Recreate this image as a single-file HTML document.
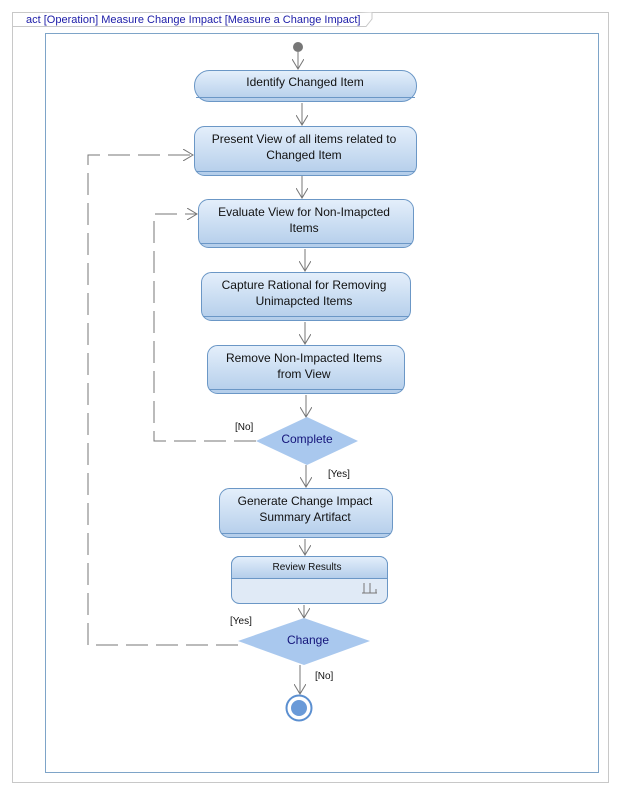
<!DOCTYPE html>
<html><head><meta charset="utf-8"><style>
body{margin:0;background:#fff;}
svg{display:block;font-family:"Liberation Sans",sans-serif;}
</style></head><body>
<svg width="618" height="792" viewBox="0 0 618 792">
<defs>
<linearGradient id="g" x1="0" y1="0" x2="0" y2="1">
<stop offset="0" stop-color="#e4effb"/><stop offset="1" stop-color="#b3cdea"/>
</linearGradient>
<marker id="a" markerWidth="12" markerHeight="12" refX="10" refY="6" orient="auto" markerUnits="userSpaceOnUse">
<path d="M0,0 L10,6 L0,12" fill="none" stroke="#777" stroke-width="1"/>
</marker>
</defs>
<rect x="12.5" y="12.5" width="596" height="770" fill="#fff" stroke="#c8c8c8"/>
<path d="M12.5,26.5 H366 L372,19 V12.5" fill="#fff" stroke="#c8c8c8"/>
<text x="26" y="23" font-size="11" fill="#1c1ca8">act [Operation] Measure Change Impact [Measure a Change Impact]</text>
<rect x="45.5" y="33.5" width="553" height="739" fill="#fff" stroke="#7ea4c8"/>
<g stroke="#777" fill="none" stroke-width="1">
<line x1="298" y1="52" x2="298" y2="69" marker-end="url(#a)"/>
<line x1="302" y1="103" x2="302" y2="125" marker-end="url(#a)"/>
<line x1="302" y1="176" x2="302" y2="198" marker-end="url(#a)"/>
<line x1="305" y1="249" x2="305" y2="271" marker-end="url(#a)"/>
<line x1="305" y1="322" x2="305" y2="344" marker-end="url(#a)"/>
<line x1="306" y1="395" x2="306" y2="417" marker-end="url(#a)"/>
<line x1="306" y1="465" x2="306" y2="487" marker-end="url(#a)"/>
<line x1="305" y1="539" x2="305" y2="555" marker-end="url(#a)"/>
<line x1="304" y1="605" x2="304" y2="618" marker-end="url(#a)"/>
<line x1="300" y1="665" x2="300" y2="694" marker-end="url(#a)"/>
<g stroke-dasharray="22,8">
<path d="M256,441 H154 V214 H197" marker-end="url(#a)"/>
<path d="M238,645 H88 V155 H193" marker-end="url(#a)"/>
</g>
</g>
<circle cx="298" cy="47" r="5" fill="#777"/>
<g stroke="#6b97c6" stroke-width="1" fill="url(#g)">
<rect x="194.5" y="70.5" width="222" height="31" rx="15"/>
<line x1="196" y1="97.5" x2="415" y2="97.5"/>
<rect x="194.5" y="126.5" width="222" height="49" rx="10"/>
<line x1="196" y1="171.5" x2="415" y2="171.5"/>
<rect x="198.5" y="199.5" width="215" height="48" rx="10"/>
<line x1="200" y1="243.5" x2="412" y2="243.5"/>
<rect x="201.5" y="272.5" width="209" height="48" rx="10"/>
<line x1="203" y1="316.5" x2="409" y2="316.5"/>
<rect x="207.5" y="345.5" width="197" height="48" rx="10"/>
<line x1="209" y1="389.5" x2="403" y2="389.5"/>
<rect x="219.5" y="488.5" width="173" height="49" rx="10"/>
<line x1="221" y1="533.5" x2="391" y2="533.5"/>
<rect x="231.5" y="556.5" width="156" height="47" rx="8" fill="#e0eaf6"/>
<path d="M231.5,578.5 V565 a8,8 0 0 1 8,-8.5 H379 a8,8 0 0 1 8.5,8.5 V578.5 Z"/>
</g>
<path d="M256,441 L307,417 L358,441 L307,465 Z" fill="#a9c8ee"/>
<path d="M238,641 L304,618 L370,641 L304,665 Z" fill="#a9c8ee"/>
<path d="M364,593 V583 M362,593 H377 M370,583 V593 M376,589 V593" stroke="#777" fill="none"/>
<circle cx="299" cy="708" r="12.5" fill="#fff" stroke="#5b8fd0" stroke-width="2"/>
<circle cx="299" cy="708" r="8" fill="#6a9ad8"/>
<g font-size="12" fill="#111" text-anchor="middle">
<text x="305" y="86">Identify Changed Item</text>
<text x="304" y="143">Present View of all items related to</text>
<text x="304" y="159">Changed Item</text>
<text x="304" y="216">Evaluate View for Non-Imapcted</text>
<text x="304" y="232">Items</text>
<text x="304" y="289">Capture Rational for Removing</text>
<text x="304" y="305">Unimapcted Items</text>
<text x="304" y="362">Remove Non-Impacted Items</text>
<text x="304" y="378">from View</text>
<text x="305" y="505">Generate Change Impact</text>
<text x="305" y="521">Summary Artifact</text>
<text x="307" y="570" font-size="10">Review Results</text>
</g>
<g font-size="12" fill="#14147a" text-anchor="middle">
<text x="307" y="443">Complete</text>
<text x="308" y="644">Change</text>
</g>
<g font-size="10" fill="#111">
<text x="235" y="430">[No]</text>
<text x="328" y="477">[Yes]</text>
<text x="230" y="624">[Yes]</text>
<text x="315" y="679">[No]</text>
</g>
</svg>
</body></html>
